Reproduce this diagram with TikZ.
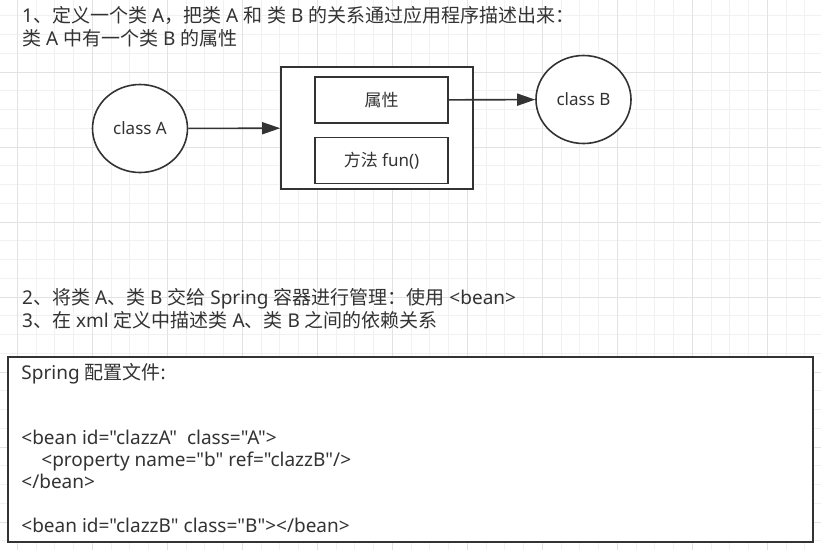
\documentclass[tikz,border=0pt]{standalone}
\usepackage{fontspec}
\setmainfont{Noto Sans}[Ligatures=TeXOff]
\newfontfamily\cjk{Noto Sans CJK SC}[Ligatures=TeXOff]
\usetikzlibrary{arrows.meta,positioning,shapes.geometric}
\definecolor{ink}{RGB}{51,51,51}
\definecolor{gridminor}{RGB}{241,241,241}
\definecolor{gridmajor}{RGB}{226,226,226}

\begin{document}
\begin{tikzpicture}[
    x=1pt, y=-1pt,
    node distance=13pt,
    box/.style={draw=ink, line width=1.6pt, fill=white, minimum width=133pt, minimum height=46pt, text=ink, font=\fontsize{17}{20}\selectfont},
    cls/.style={draw=ink, line width=1.6pt, fill=white, ellipse, minimum width=95pt, minimum height=88pt, text=ink, font=\fontsize{17}{20}\selectfont},
    frame/.style={draw=ink, line width=1.6pt, fill=white},
    note/.style={align=left, inner sep=0pt, anchor=north west, text=ink, font=\fontsize{19}{23.5}\selectfont},
    code/.style={align=left, inner sep=0pt, anchor=north west, text=ink, font=\fontsize{19}{21.8}\selectfont},
    arrow/.style={-{Triangle[length=18pt, width=12pt]}, draw=ink, line width=1.6pt}
]
\useasboundingbox (0,0) rectangle (821,550);
\fill[white] (0,0) rectangle (821,550);
\foreach \i in {0,...,44} \draw[gridminor] ({-1.75+18.75*\i},0) -- ++(0,550);
\foreach \i in {0,...,28} \draw[gridminor] (0,{15.45+18.75*\i}) -- ++(821,0);
\foreach \i in {0,...,10} \draw[gridmajor] ({17+75*\i},0) -- ++(0,550);
\foreach \i in {0,...,6} \draw[gridmajor] (0,{71.7+75*\i}) -- ++(821,0);

\node[note] (step1) at (22,6) {1{\cjk 、定义一个类} A{\cjk ，把类} A {\cjk 和} {\cjk 类} B {\cjk 的关系通过应用程序描述出来：}\\{\cjk 类} A {\cjk 中有一个类} B {\cjk 的属性}};

\node[cls] (clsA) at (140,128.5) {class A};
\node[frame, minimum width=192pt, minimum height=122pt] (holder) at (377,128) {};
\node[box] (attr) at (381.5,100) {{\cjk 属性}};
\node[box, below=of attr] (method) {{\cjk 方法} fun()};
\node[cls] (clsB) at (583.5,99.5) {class B};
\draw[arrow] (clsA) -- (holder);
\draw[arrow] (attr) -- (clsB);

\node[note] (step2) at (22,288) {2{\cjk 、将类} A{\cjk 、类} B {\cjk 交给} Spring {\cjk 容器进行管理：使用} <bean>\\3{\cjk 、在} xml {\cjk 定义中描述类} A{\cjk 、类} B {\cjk 之间的依赖关系}};

\node[frame, minimum width=805pt, minimum height=185pt] (cfg) at (410.5,449.5) {};
\node[code] (cfgtext) at ([shift={(14,7)}]cfg.north west) {Spring {\cjk 配置文件}:\\ \\ \\
<bean id="clazzA"\ \ class="A">\\
\hspace*{20pt}<property name="b" ref="clazzB"/>\\
</bean>\\ \\
<bean id="clazzB" class="B"></bean>};
\end{tikzpicture}
\end{document}
